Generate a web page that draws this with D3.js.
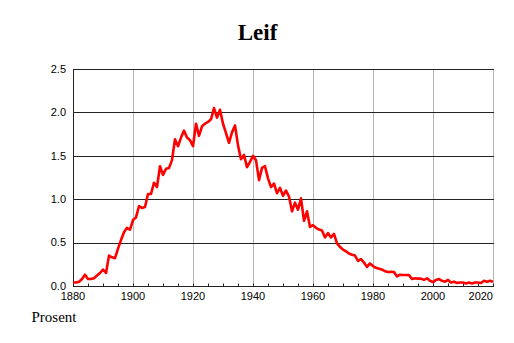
<!DOCTYPE html>
<html><head><meta charset="utf-8">
<script src="https://cdn.jsdelivr.net/npm/d3@7"></script>
<style>body{margin:0;background:#fff}svg{display:block}</style>
</head><body><svg id="c" width="514" height="343"></svg>
<script>
const title = "Leif";
const yLabel = "Prosent";
const years = d3.range(1880, 2021);
const values = [
0.04,0.04,0.05,0.08,0.13,0.08,0.08,0.09,0.12,0.15,
0.19,0.15,0.35,0.33,0.32,0.43,0.53,0.62,0.67,0.65,
0.76,0.79,0.92,0.90,0.91,1.06,1.06,1.19,1.14,1.38,
1.28,1.35,1.36,1.45,1.69,1.61,1.71,1.79,1.71,1.68,
1.61,1.87,1.73,1.84,1.87,1.89,1.92,2.05,1.94,2.03,
1.87,1.76,1.65,1.77,1.85,1.62,1.46,1.51,1.37,1.43,
1.50,1.45,1.22,1.36,1.38,1.24,1.14,1.18,1.07,1.13,
1.04,1.10,1.03,0.86,0.96,0.88,1.01,0.75,0.86,0.68,
0.70,0.67,0.65,0.64,0.56,0.61,0.56,0.60,0.49,0.45,
0.42,0.40,0.375,0.36,0.35,0.29,0.31,0.27,0.22,0.26,
0.23,0.21,0.20,0.19,0.17,0.16,0.165,0.16,0.11,0.13,
0.127,0.127,0.125,0.08,0.09,0.085,0.085,0.07,0.088,0.06,
0.045,0.07,0.08,0.06,0.05,0.07,0.04,0.05,0.035,0.04,
0.04,0.03,0.04,0.03,0.04,0.04,0.035,0.06,0.05,0.06,
0.05];
const xTicks = [1880,1900,1920,1940,1960,1980,2000,2020];
const yTicks = [0,0.5,1.0,1.5,2.0,2.5];

const svg = d3.select("#c");
const L = 73, R = 493, T = 69, B = 286;
const x = d3.scaleLinear().domain([1880, 2020]).range([L, R]);
const y = d3.scaleLinear().domain([0, 2.5]).range([B, T]);
const px = v => Math.round(v) + 0.5;

// vertical grid
svg.append("g").selectAll("line").data(xTicks).join("line")
  .attr("x1", d => px(x(d))).attr("x2", d => px(x(d)))
  .attr("y1", T).attr("y2", B)
  .attr("stroke", "#b4b4b4").attr("stroke-width", 1);
// horizontal grid
svg.append("g").selectAll("line").data(yTicks).join("line")
  .attr("x1", L).attr("x2", R + 1)
  .attr("y1", d => px(y(d))).attr("y2", d => px(y(d)))
  .attr("stroke", "#222").attr("stroke-width", 1);
// left axis line
svg.append("line").attr("x1", px(L)).attr("x2", px(L)).attr("y1", T).attr("y2", B + 1)
  .attr("stroke", "#222");
// minor ticks every 5 years
svg.append("g").selectAll("line").data(d3.range(1880, 2021, 5)).join("line")
  .attr("x1", d => px(x(d))).attr("x2", d => px(x(d)))
  .attr("y1", px(B) - 3).attr("y2", px(B))
  .attr("stroke", "#222");

// data line
svg.append("defs").append("clipPath").attr("id", "clip")
  .append("rect").attr("x", L).attr("y", T - 5).attr("width", R - L + 1).attr("height", B - T + 5);
const line = d3.line().x((d, i) => x(years[i])).y(d => y(d));
svg.append("path").datum(values).attr("d", line)
  .attr("fill", "none").attr("stroke", "#ff0000").attr("stroke-width", 2.6)
  .attr("stroke-linejoin", "round").attr("clip-path", "url(#clip)");

// y tick labels
svg.append("g").selectAll("text").data(yTicks).join("text")
  .attr("x", 66).attr("y", d => y(d)).attr("dy", "0.35em")
  .attr("text-anchor", "end")
  .attr("font-family", "Liberation Sans, Arial, sans-serif").attr("font-size", 11)
  .text(d => d.toFixed(1));
// x tick labels
svg.append("g").selectAll("text").data(xTicks).join("text")
  .attr("x", (d, i) => i === xTicks.length - 1 ? R : x(d))
  .attr("y", 300)
  .attr("text-anchor", (d, i) => i === xTicks.length - 1 ? "end" : "middle")
  .attr("font-family", "Liberation Sans, Arial, sans-serif").attr("font-size", 11)
  .text(d => d);

svg.append("text").attr("x", 257.5).attr("y", 40).attr("text-anchor", "middle")
  .attr("font-family", "Liberation Serif, Times New Roman, serif").attr("font-weight", "bold")
  .attr("font-size", 23).text(title);
svg.append("text").attr("x", 31.5).attr("y", 322)
  .attr("font-family", "Liberation Serif, Times New Roman, serif")
  .attr("font-size", 15).text(yLabel);
</script></body></html>
